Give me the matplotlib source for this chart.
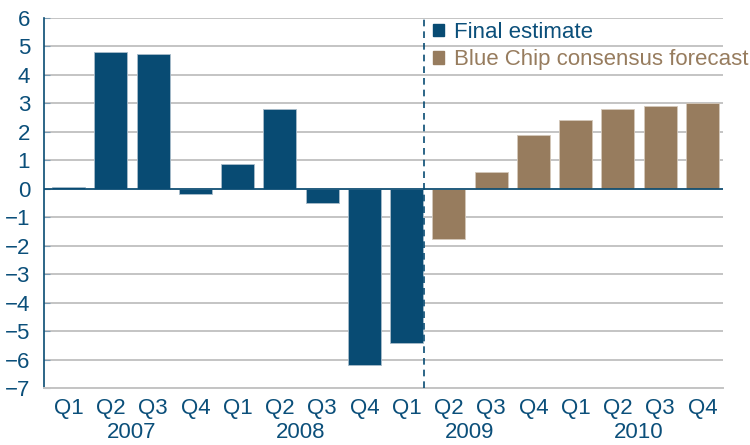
import matplotlib.pyplot as plt
from matplotlib.patches import Patch
import numpy as np

# Data
# ------------------------------------------------------------------------------

quarters = ['Q1', 'Q2', 'Q3', 'Q4'] * 4
years = ['2007', '2008', '2009', '2010']

final_est = [0.05, 4.8, 4.75, -0.18, 0.88, 2.8, -0.5, -6.2, -5.42]
bluechip = [-1.75, 0.6, 1.9, 2.4, 2.8, 2.9, 3.0]

# Plot
# ------------------------------------------------------------------------------

blue = '#084B73'
brown = '#977C5E'
txt_c = '#0B4F7A'

plt.rcParams['font.family'] = ['Liberation Sans', 'DejaVu Sans']

fig = plt.figure(figsize=(7.5, 4.45), dpi=100)
ax = fig.add_axes([0.0587, 0.128, 0.905, 0.8315])

x_fin = np.arange(len(final_est))
x_bc = np.arange(len(final_est), len(final_est) + len(bluechip))

ax.bar(x_fin, final_est, width=0.78, color=blue, edgecolor='#A9BCCB', lw=0.6, zorder=3)
ax.bar(x_bc, bluechip, width=0.78, color=brown, edgecolor='#D4C8BA', lw=0.6, zorder=3)

ax.axhline(0, color=blue, lw=1.2, zorder=4)
ax.axvline(8.4, color=blue, lw=1.2, ls=(0, (4, 3)), zorder=5)

ax.set_xlim(-0.58, 15.48)
ax.set_ylim(-7, 6)
ax.set_yticks(range(-7, 7))
ax.yaxis.grid(True, color='#C4C4C4', lw=1.4, zorder=0)
ax.set_xticks(range(16))
ax.set_xticklabels(quarters)
ax.tick_params(axis='x', length=0, pad=7, labelsize=16, labelcolor=txt_c)
ax.tick_params(axis='y', length=4, color='#7F9DB3', direction='in', pad=10,
               labelsize=16, labelcolor=txt_c)

for side in ['top', 'right']:
    ax.spines[side].set_visible(False)
ax.spines['left'].set_color(blue)
ax.spines['left'].set_linewidth(1.2)
ax.spines['bottom'].set_color('#C4C4C4')
ax.spines['bottom'].set_linewidth(1.4)

for i, yr in enumerate(years):
    ax.text(4 * i + 1.5, -0.12, yr, transform=ax.get_xaxis_transform(),
            ha='center', va='center', fontsize=16, color=txt_c)

handles = [Patch(color=blue), Patch(color=brown)]
ax.legend(handles, ['Final estimate', 'Blue Chip consensus forecast'],
          loc='upper left', bbox_to_anchor=(0.557, 1.02), frameon=False,
          fontsize=16, handlelength=0.5, handleheight=0.5, handletextpad=0.45,
          labelspacing=0.3, labelcolor=[txt_c, brown], borderpad=0)

plt.savefig('out.png', dpi=100)
